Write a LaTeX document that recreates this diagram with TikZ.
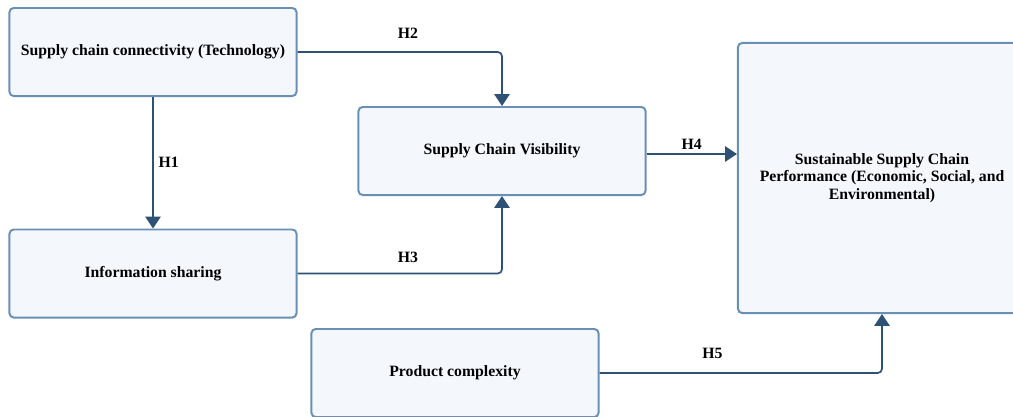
\documentclass[tikz,border=0pt]{standalone}
\usepackage{fontspec}
\setmainfont{Liberation Serif}
\usetikzlibrary{arrows.meta,positioning,calc}
\tikzset{every picture/.style={line width=0.75pt}}
\definecolor{boxline}{HTML}{6A8FB5}
\definecolor{boxfill}{HTML}{F4F8FC}
\definecolor{linkblue}{HTML}{2E5275}

\begin{document}
\begin{tikzpicture}[x=0.025cm, y=-0.025cm,
    box/.style={draw=boxline, fill=boxfill, line width=1.4pt, rounded corners=3pt,
        align=center, font=\bfseries\fontsize{11.2}{12.6}\selectfont,
        minimum width=7.175cm, minimum height=2.2cm},
    link/.style={draw=linkblue, line width=1.2pt, rounded corners=3pt,
        -{Triangle[length=8.5pt, width=11pt]}},
    hlab/.style={font=\bfseries\fontsize{11.2}{12}\selectfont, text=black}]
    \useasboundingbox (0,0) rectangle (1013,416);
    \node[box] (conn) at (153,52) {Supply chain connectivity (Technology)};
    \node[box] (info) at (153,273.5) {Information sharing};
    \node[box] (vis) at (502,151) {Supply Chain Visibility};
    \node[box] (prod) at (455,373) {Product complexity};
    \node[box, minimum width=7.2cm, minimum height=6.75cm] (perf) at (882,178)
        {Sustainable Supply Chain\\Performance (Economic, Social, and\\Environmental)};
    \coordinate (h4start) at ($(vis.east)+(0,3)$);
    \draw[link] (conn) -- node[hlab, right=0pt] {H1} (info);
    \draw[link] (conn.east) -| node[hlab, pos=0.27, above=6pt] {H2} (vis.north);
    \draw[link] (info.east) -| node[hlab, pos=0.27, above=3.5pt] {H3} (vis.south);
    \draw[link] (h4start) -- node[hlab, above=-1pt] {H4} (h4start -| perf.west);
    \draw[link] (prod.east) -| node[hlab, pos=0.2, above=6.5pt] {H5} (perf.south);
\end{tikzpicture}
\end{document}
